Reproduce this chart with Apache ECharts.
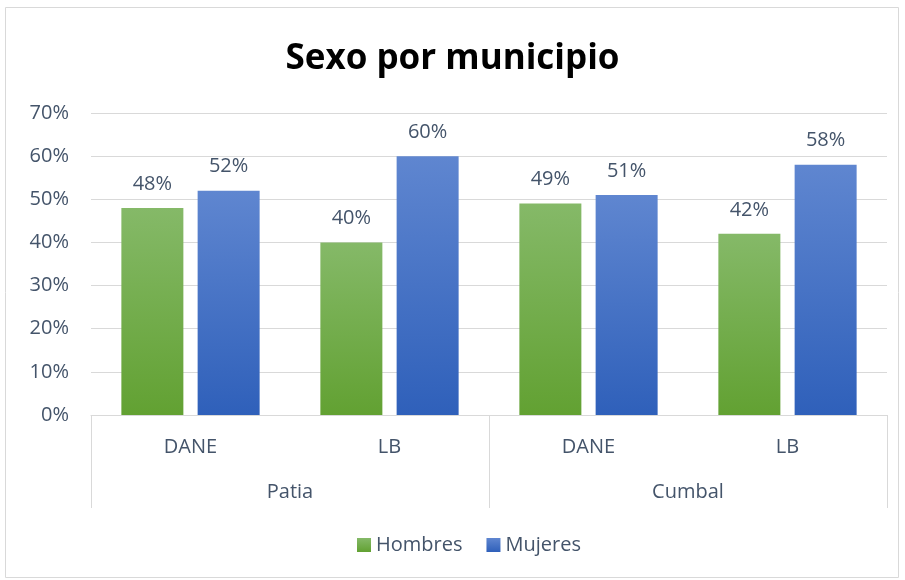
<!DOCTYPE html>
<html lang="es">
<head>
	<meta charset="UTF-8">
	<script src="https://cdn.jsdelivr.net/npm/echarts@6.0.0/dist/echarts.min.js"></script>
	<title>Sexo por municipio</title>
	<style>
		html, body { margin: 0; padding: 0; background: #fff; }
	</style>
</head>
<body>
	<div id="main" style="width: 905px;height:580px;"></div>

	<script>
		// datos
		var fuentes = ['DANE', 'LB', 'DANE', 'LB'];
		var municipios = ['Patia', 'Cumbal'];
		var hombres = [48, 40, 49, 42];
		var mujeres = [52, 60, 51, 58];
		var yTicks = [0, 10, 20, 30, 40, 50, 60, 70];

		var textColor = '#44546a';
		var font = '"Open Sans", "Liberation Sans", sans-serif';

		function grad(top, bottom) {
			return new echarts.graphic.LinearGradient(0, 0, 0, 1, [
				{ offset: 0, color: top },
				{ offset: 1, color: bottom }
			]);
		}

		var chart = echarts.init(document.getElementById('main'));

		var labelCfg = {
			show: true,
			position: 'top',
			distance: 14,
			formatter: '{c}%',
			color: textColor,
			fontSize: 20,
			fontFamily: font
		};

		chart.setOption({
			animation: false,
			textStyle: { fontFamily: font },
			graphic: [{
				type: 'rect',
				shape: { x: 5.5, y: 7.5, width: 893, height: 570 },
				style: { fill: 'none', stroke: '#d9d9d9', lineWidth: 1 },
				z: -1
			}],
			title: {
				text: 'Sexo por municipio',
				left: 'center',
				top: 37,
				textStyle: { fontSize: 35, fontWeight: 'bold', color: '#000', fontFamily: font }
			},
			legend: {
				bottom: 20,
				left: 352,
				itemWidth: 14,
				itemHeight: 14,
				itemGap: 24,
				icon: 'rect',
				textStyle: { color: textColor, fontSize: 20, fontFamily: font },
				data: ['Hombres', 'Mujeres']
			},
			grid: { left: 91, right: 18, top: 113, bottom: 165 },
			xAxis: [{
				type: 'category',
				data: fuentes,
				axisLine: { show: true, lineStyle: { color: '#d9d9d9', width: 1 } },
				axisTick: { show: false },
				axisLabel: { color: textColor, fontSize: 20, margin: 22, fontFamily: font }
			}, {
				type: 'category',
				position: 'bottom',
				data: municipios,
				axisLine: { show: false },
				axisTick: { show: true, length: 93, interval: 0, lineStyle: { color: '#d9d9d9', width: 1 } },
				axisLabel: { color: textColor, fontSize: 20, margin: 67, fontFamily: font }
			}],
			yAxis: {
				type: 'value',
				min: yTicks[0],
				max: yTicks[yTicks.length - 1],
				interval: 10,
				axisLine: { show: false },
				axisTick: { show: false },
				splitLine: { lineStyle: { color: '#d9d9d9', width: 1 } },
				axisLabel: { formatter: '{value}%', color: textColor, fontSize: 20, margin: 22, fontFamily: font }
			},
			series: [{
				name: 'Hombres',
				type: 'bar',
				xAxisIndex: 0,
				data: hombres,
				barWidth: 62,
				barGap: '23%',
				itemStyle: { color: grad('#85b968', '#62a132') },
				label: labelCfg
			}, {
				name: 'Mujeres',
				type: 'bar',
				xAxisIndex: 0,
				data: mujeres,
				barWidth: 62,
				itemStyle: { color: grad('#5f86d0', '#2f60ba') },
				label: labelCfg
			}]
		});
	</script>
</body>
</html>
